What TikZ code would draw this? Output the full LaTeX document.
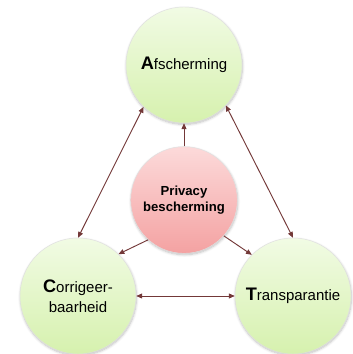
\documentclass[tikz,border=0pt]{standalone}
\usepackage{fontspec}
\setmainfont{Liberation Sans}
\usetikzlibrary{arrows.meta}
\usetikzlibrary{shadows.blur}

\definecolor{arr}{HTML}{733838}
\definecolor{gtop}{HTML}{F1FBE4}
\definecolor{gbot}{HTML}{D6F1AE}
\definecolor{ptop}{HTML}{FCDADA}
\definecolor{pbot}{HTML}{F4A2A2}
\newcommand\bigini[1]{{\fontsize{15.5}{17}\selectfont\bfseries #1}}

\begin{document}
\begin{tikzpicture}[gc/.style={circle,draw=black!12,top color=gtop,bottom color=gbot,minimum
        size=3.48cm,inner sep=0pt,align=center,font=\fontsize{12.8}{17}\selectfont,
        blur shadow={shadow blur steps=6,shadow xshift=0.4pt,shadow yshift=-1.2pt,shadow opacity=25}},
        pc/.style={gc,top color=ptop,bottom color=pbot,minimum size=3.2cm,
        font=\fontsize{11.2}{13.7}\selectfont\bfseries},
        ar/.style={draw=arr,line width=0.8pt,-{Triangle[length=5pt,width=4.2pt]}},
        dar/.style={ar,{Triangle[length=5pt,width=4.2pt]}-{Triangle[length=5pt,width=4.2pt]}}]
         \useasboundingbox (0,0) rectangle (10.56,10.62);
         \path node[gc] (a) at (5.52,8.67) {\bigini{A}fscherming}
         node[pc] (p) at (5.52,4.62) {Privacy\\bescherming}
         node[gc] (c) at (2.34,1.74) {\bigini{C}orrigeer-\\baarheid}
         node[gc] (t) at (8.79,1.74) {\bigini{T}ransparantie};
         \foreach \X/\Y in {a.270/p.90,c.46/p.228,t.135/p.318} \draw[ar] (\Y) -- (\X);
         \foreach \X/\Y in {a.226/c.90,a.316/t.90,c.0/t.180} \draw[dar] (\X) -- (\Y);
    \end{tikzpicture}
\end{document}
